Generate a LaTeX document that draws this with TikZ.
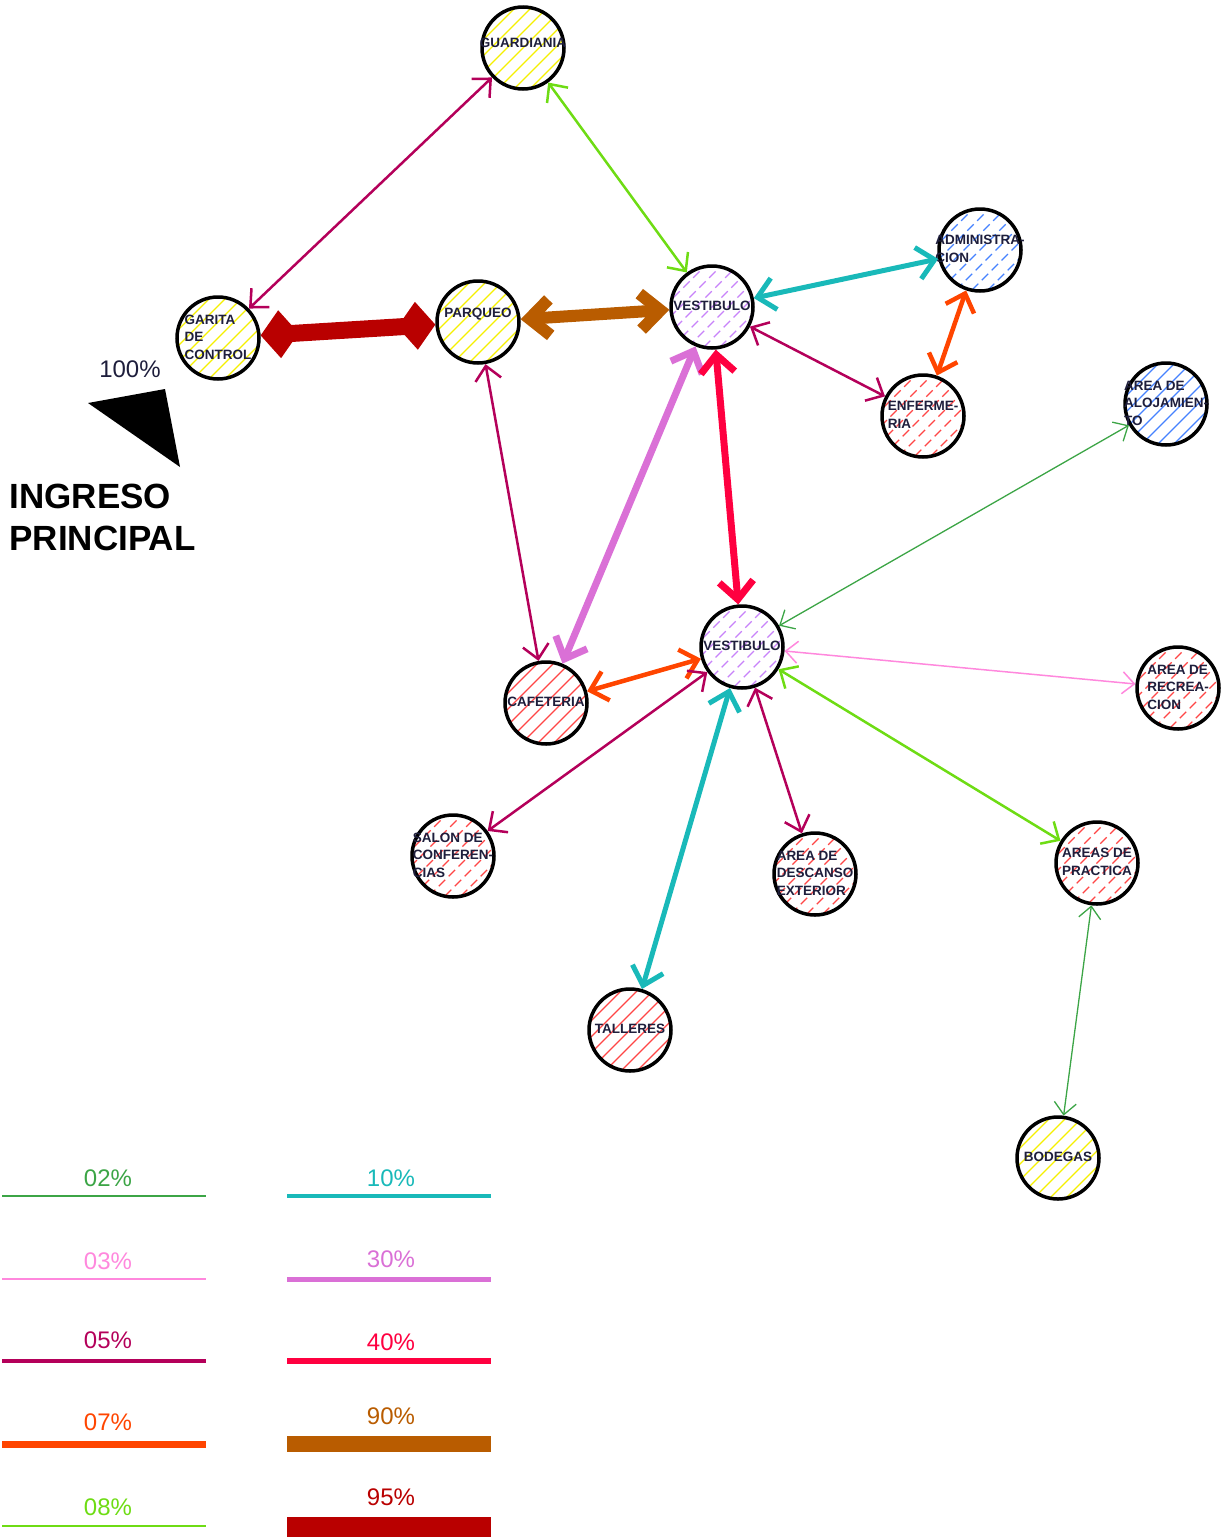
\documentclass[tikz,border=0pt]{standalone}
\usepackage{fontspec}
\setmainfont{Liberation Sans}
\usetikzlibrary{arrows.meta}
\definecolor{c02}{RGB}{60,165,70}
\definecolor{c03}{RGB}{255,136,221}
\definecolor{c05}{RGB}{180,0,90}
\definecolor{c07}{RGB}{255,69,0}
\definecolor{c08}{RGB}{110,220,20}
\definecolor{c10}{RGB}{25,185,185}
\definecolor{c30}{RGB}{218,112,214}
\definecolor{c40}{RGB}{255,0,64}
\definecolor{c90}{RGB}{185,92,0}
\definecolor{c95}{RGB}{185,0,0}
\definecolor{hy}{RGB}{245,240,0}
\definecolor{hv}{RGB}{200,130,250}
\definecolor{hr}{RGB}{255,70,70}
\definecolor{hb}{RGB}{70,130,255}
\definecolor{ink}{RGB}{30,30,60}
\newcommand{\rlab}[2][0pt]{\raisebox{#1}{\makebox[0pt]{\begin{tabular}{@{}l@{}}#2\end{tabular}}}}

\begin{document}
\begin{tikzpicture}[x=1pt,y=-1pt,
	room/.style={circle, draw, line width=3.5pt, minimum size=82pt, inner sep=0pt,%
		fill=white, text=ink, font=\bfseries\fontsize{13.5}{17.5}\selectfont,%
		path picture={\foreach \k in {-80,-64,...,80}
			\draw[#1, line width=1.3pt] ([shift={(\k-50,50)}]path picture bounding box.center) -- ++(100,-100);}},
	f02/.style={c02, line width=1.3pt, >={Straight Barb[length=12pt,width=22pt]}, <->},
	f03/.style={c03, line width=1.5pt, >={Straight Barb[length=12pt,width=22pt]}, <->},
	f05/.style={c05, line width=2.5pt, >={Straight Barb[length=14pt,width=26pt]}, <->},
	f07/.style={c07, line width=4.5pt, >={Straight Barb[length=16pt,width=30pt]}, <->},
	f08/.style={c08, line width=2.5pt, >={Straight Barb[length=14pt,width=26pt]}, <->},
	f10/.style={c10, line width=5pt, >={Straight Barb[length=17pt,width=32pt]}, <->},
	f30/.style={c30, line width=7pt, >={Straight Barb[length=18pt,width=34pt]}, <->},
	f40/.style={c40, line width=7pt, >={Straight Barb[length=18pt,width=34pt]}, <->},
	f90/.style={c90, line width=12pt, >={Straight Barb[length=20pt,width=36pt]}, <->},
	f95/.style={c95, line width=17pt, >={Diamond[length=38pt,width=48pt]}, <->},
	pct/.style={font=\fontsize{24}{28}\selectfont}]
	\useasboundingbox (0,0) rectangle (1225,1537);

	\node[room=hy] (guard) at (523,48) {\rlab[14pt]{GUARDIANIA}};
	\node[room=hy] (garita) at (218,338) {\rlab{GARITA\\DE\\CONTROL}};
	\node[room=hy] (parq) at (478,322) {\rlab[22pt]{PARQUEO}};
	\node[room={hv,dash pattern=on 9pt off 5pt}] (vest1) at (712,307) {\rlab{VESTIBULO}};
	\node[room={hb,dash pattern=on 9pt off 5pt}] (admin) at (980,250) {\rlab{ADMINISTRA-\\CION}};
	\node[room={hr,dash pattern=on 9pt off 5pt}] (enfer) at (923,416) {\rlab{ENFERME-\\RIA}};
	\node[room=hb] (aloja) at (1166,404) {\rlab{AREA DE\\ALOJAMIEN-\\TO}};
	\node[room={hv,dash pattern=on 9pt off 5pt}] (vest2) at (742,647) {\rlab{VESTIBULO}};
	\node[room=hr] (cafe) at (546,703) {\rlab{CAFETERIA}};
	\node[room={hr,dash pattern=on 9pt off 5pt}] (recre) at (1178,688) {\rlab{AREA DE\\RECREA-\\CION}};
	\node[room={hr,dash pattern=on 9pt off 5pt}] (salon) at (453,856) {\rlab{SALON DE\\CONFEREN-\\CIAS}};
	\node[room={hr,dash pattern=on 9pt off 5pt}] (desc) at (815,874) {\rlab{AREA DE\\DESCANSO\\EXTERIOR}};
	\node[room={hr,dash pattern=on 9pt off 5pt}] (pract) at (1097,863) {\rlab{AREAS DE\\PRACTICA}};
	\node[room=hr] (tall) at (630,1030) {\rlab{TALLERES}};
	\node[room=hy] (bod) at (1058,1158) {\rlab{BODEGAS}};

	\draw[f05] (garita) -- (guard);
	\draw[f08] (guard) -- (vest1);
	\draw[f95] (garita) -- (parq);
	\draw[f90] (parq) -- (vest1);
	\draw[f10] (vest1) -- (admin);
	\draw[f05] (vest1) -- (enfer);
	\draw[f07] (admin) -- (enfer);
	\draw[f05] (parq) -- (cafe);
	\draw[f30] (vest1) -- (cafe);
	\draw[f40] (vest1) -- (vest2);
	\draw[f02] (vest2) -- (aloja);
	\draw[f03] (vest2) -- (recre);
	\draw[f07] (vest2) -- (cafe);
	\draw[f05] (vest2) -- (salon);
	\draw[f10] (vest2) -- (tall);
	\draw[f05] (vest2) -- (desc);
	\draw[f08] (vest2) -- (pract);
	\draw[f02] (pract) -- (bod);

	% ingreso
	\node[pct, text=ink] (cien) at (130,369) {100\%};
	\fill (88,403) -- (165,389) -- (180,467) -- cycle;
	\node[anchor=west, align=left, font=\bfseries\fontsize{35}{42}\selectfont] (ingreso) at (6,517) {INGRESO\\PRINCIPAL};

	% leyenda
	\foreach \p/\w/\y/\d in {02/1.5/1196/18, 03/1.5/1279/18, 05/3.5/1361/21, 07/7/1444/22, 08/2.5/1526/19}{
		\draw[c\p, line width=\w pt] (2,\y) -- (206,\y);
		\node[pct, text=c\p] (ley\p) at (108,\y-\d) {\p\%};
	}
	\foreach \p/\w/\y/\d in {10/3.5/1196/18, 30/5/1279/20, 40/6.5/1361/19, 90/16/1444/28, 95/20/1527/30}{
		\draw[c\p, line width=\w pt] (287,\y) -- (491,\y);
		\node[pct, text=c\p] (ley\p) at (391,\y-\d) {\p\%};
	}
\end{tikzpicture}
\end{document}
